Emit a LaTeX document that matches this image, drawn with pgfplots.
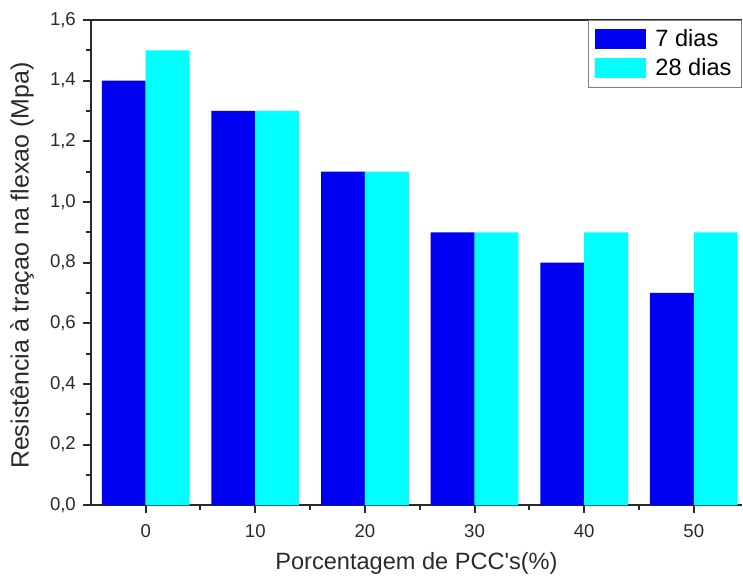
\documentclass[border=0pt]{standalone}
\usepackage{fontspec}
\setmainfont{Liberation Sans}
\usepackage{pgfplots}
\pgfplotsset{compat=1.18}
\usetikzlibrary{calc}
\definecolor{bar7}{HTML}{0000F2}
\definecolor{bar28}{HTML}{00FFFF}
\definecolor{axdark}{HTML}{2A2A2A}
\begin{document}
\begin{tikzpicture}
\begin{axis}[
  name=ax,
  scale only axis,
  width=326pt, height=243pt,
  xmin=-5, xmax=54.4,
  ymin=0, ymax=1.6,
  axis x line=box, axis y line=left,
  axis line style={line width=1pt, color=axdark, -},
  xtick={0,10,20,30,40,50},
  minor xtick={5,15,25,35,45},
  ytick={0,0.2,...,1.6},
  minor ytick={0.1,0.3,...,1.5},
  xtick pos=bottom, ytick pos=left,
  tick align=outside,
  major tick length=4pt, minor tick length=2.5pt,
  tick style={line width=1pt, color=axdark},
  ticklabel style={font=\fontsize{9.3}{11}\selectfont, color=axdark},
  yticklabel style={/pgf/number format/.cd, use comma, fixed, fixed zerofill, precision=1},
  /pgf/number format/assume math mode=true,
  xticklabel style={yshift=-2pt},
  xlabel={Porcentagem de PCC\textquotesingle s(\%)},
  ylabel={Resistência à traçao na flexao (Mpa)},
  label style={color=axdark},
  xlabel style={font=\fontsize{11.8}{14}\selectfont, at={(axis description cs:0.5,0)}, anchor=center, yshift=-29pt},
  ylabel style={font=\fontsize{12.5}{14}\selectfont, at={(axis description cs:0,0.5)}, anchor=center, xshift=-1.5pt, yshift=34.5pt},
  ybar=0pt, bar width=4,
  legend style={at={(1,1)}, anchor=north east, draw=gray, line width=0.6pt,
    font=\fontsize{11.8}{13}\selectfont, row sep=0.5pt, column sep=2.5pt,
    inner xsep=3pt, inner ysep=2.5pt},
  legend cell align=left,
  legend image code/.code={\fill[#1] (0pt,-4.5pt) rectangle (26pt,5.5pt);},
]
\addplot[fill=bar7, draw=none] coordinates {(0,1.4) (10,1.3) (20,1.1) (30,0.9) (40,0.8) (50,0.7)};
\addplot[fill=bar28, draw=none] coordinates {(0,1.5) (10,1.3) (20,1.1) (30,0.9) (40,0.9) (50,0.9)};
\legend{7 dias, 28 dias}
\end{axis}
\path ($(ax.south west)+(-45.5pt,-37pt)$) rectangle ($(ax.north east)+(0pt,10pt)$);
\end{tikzpicture}
\end{document}
